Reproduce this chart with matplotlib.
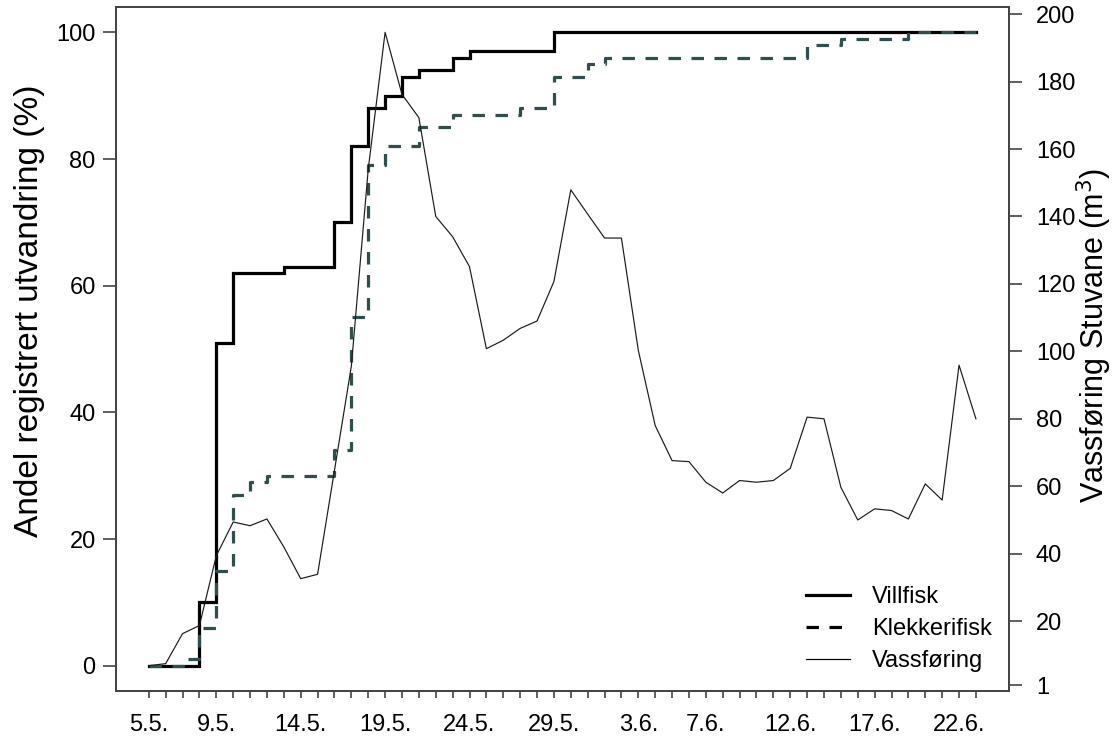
import matplotlib
matplotlib.use('Agg')
import matplotlib.pyplot as plt
from matplotlib.lines import Line2D
import numpy as np

plt.rcParams['font.family'] = ['Liberation Sans', 'DejaVu Sans']

# Daily series, 5 May to 23 June
day_tick_labels = ['5.5.', '9.5.', '14.5.', '19.5.', '24.5.', '29.5.',
                   '3.6.', '7.6.', '12.6.', '17.6.', '22.6.']
day_tick_index = [0, 4, 9, 14, 19, 24, 29, 33, 38, 43, 48]

villfisk = [0, 0, 0, 10, 51, 62, 62, 62, 63, 63, 63, 70, 82, 88, 90, 93, 94, 94,
            96, 97, 97, 97, 97, 97] + [100] * 26

klekkerifisk = [0, 0, 1, 6, 15, 27, 29, 30, 30, 30, 30, 34, 55, 79, 82, 82, 85, 85,
                87, 87, 87, 87, 88, 88, 93, 93, 95] + [96] * 12 + [98, 98, 99, 99, 99, 99] + [100] * 5

vassforing = [6.8, 7.4, 16.3, 18.7, 39.4, 49.4, 48.3, 50.3, 42.0, 32.6, 33.9,
              64.7, 95.6, 154.0, 194.6, 176.2, 169.3, 140.0, 134.0, 125.1, 100.8,
              103.3, 106.8, 109.0, 120.7, 147.9, 140.7, 133.6, 133.6, 100.3, 78.0,
              67.6, 67.3, 61.2, 58.0, 61.7, 61.2, 61.7, 65.3, 80.5, 80.0, 59.7,
              50.0, 53.3, 52.8, 50.3, 60.7, 55.9, 95.9, 80.0]

left_ticks = [0, 20, 40, 60, 80, 100]
right_ticks = [1, 20, 40, 60, 80, 100, 120, 140, 160, 180, 200]

days = np.arange(len(villfisk))

W, H = 1118, 744
fig = plt.figure(figsize=(W / 100, H / 100), dpi=100)
ax = fig.add_axes([115.7 / W, 1 - 691 / H, (1009 - 115.7) / W, (691 - 7) / H])
ax2 = ax.twinx()

frame_col = '#444444'
fs = 17

ax.plot(days, villfisk, drawstyle='steps-post', color='black', lw=2.3,
        solid_joinstyle='miter')
ax.plot(days, klekkerifisk, drawstyle='steps-post', color='#2F4F4F', lw=2.3,
        linestyle=(0, (3.9, 3.3)))
ax2.plot(days, vassforing, color='#1a1a1a', lw=0.85)

n = len(days) - 1
pad = 0.04 * n
ax.set_xlim(-pad, n + pad)
ax.set_ylim(-4, 104)
vmin, vmax = min(vassforing), max(vassforing)
vpad = 0.04 * (vmax - vmin)
ax2.set_ylim(vmin - vpad, vmax + vpad)

ax.set_xticks(days, minor=True)
ax.set_xticks(day_tick_index)
ax.set_xticklabels(day_tick_labels)
ax.set_yticks(left_ticks)
ax.set_yticklabels([str(v) for v in left_ticks])
ax2.set_yticks(right_ticks)
ax2.set_yticklabels([str(v) for v in right_ticks])

ax.tick_params(axis='x', which='both', length=5, width=1.2, color=frame_col,
               labelsize=fs, pad=11.5)
ax.tick_params(axis='y', length=9.4, width=1.2, color=frame_col, labelsize=fs, pad=5)
ax2.tick_params(axis='y', length=9.4, width=1.2, color=frame_col, labelsize=fs, pad=10)

for a in (ax, ax2):
    for sp in a.spines.values():
        sp.set_color(frame_col)
        sp.set_linewidth(1.3)

fig.text(30 / W, 1 - 311 / H, 'Andel registrert utvandring (%)', rotation=90,
         ha='center', va='center', fontsize=24)
fig.text(1094 / W, 1 - 335 / H, 'Vassføring Stuvane (m$^{3}$)', rotation=90,
         ha='center', va='center', fontsize=22)

handles = [Line2D([], [], color='black', lw=2.3),
           Line2D([], [], color='black', lw=2.3, linestyle=(0, (3.9, 3.3))),
           Line2D([], [], color='black', lw=0.85)]
ax2.legend(handles, ['Villfisk', 'Klekkerifisk', 'Vassføring'],
           loc='upper left', bbox_to_anchor=(806 / W, 1 - 586 / H),
           bbox_transform=fig.transFigure, frameon=False, fontsize=fs,
           borderpad=0, borderaxespad=0, handlelength=1.86, handletextpad=0.92,
           labelspacing=0.43)

fig.savefig('out.png', dpi=100)
